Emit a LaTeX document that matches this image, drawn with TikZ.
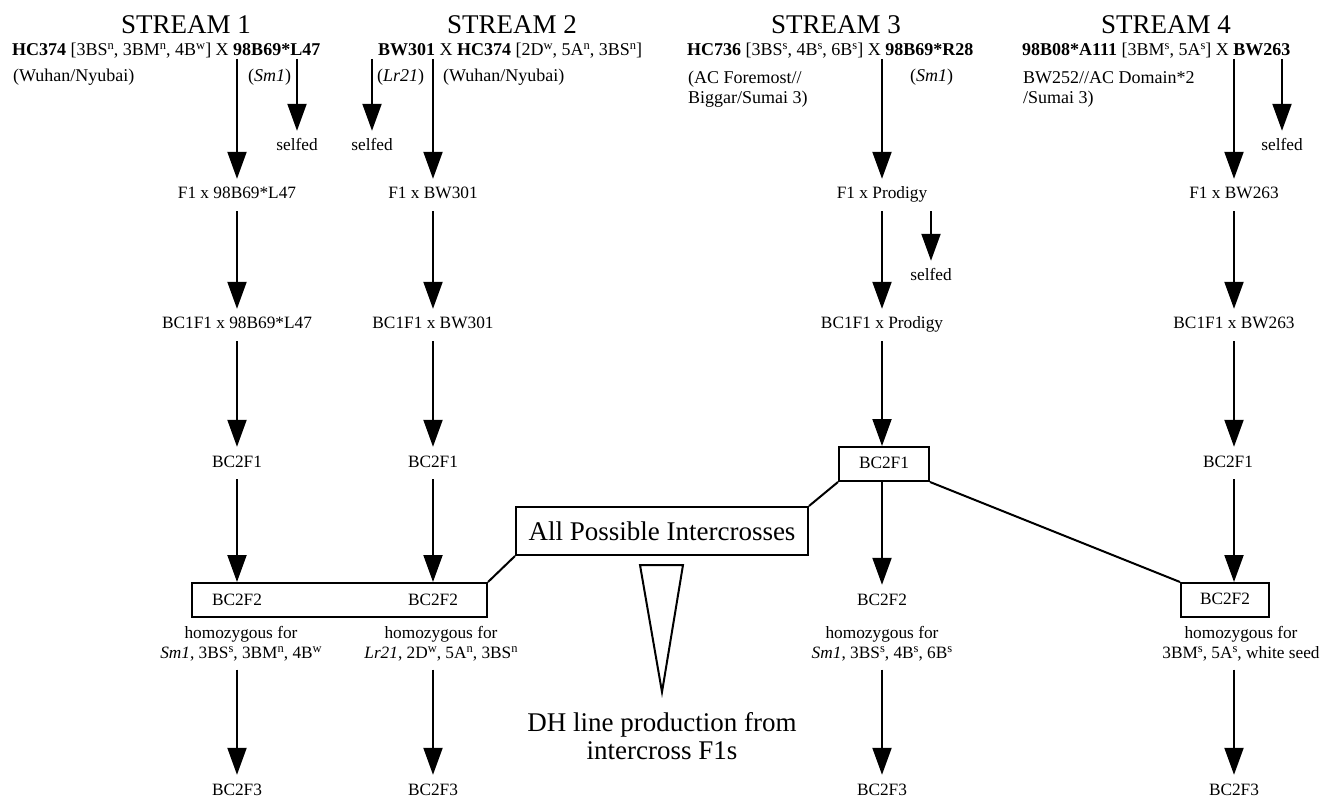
\documentclass[tikz,border=0pt]{standalone}
\usepackage{fontspec}
\setmainfont{Liberation Serif}
\usetikzlibrary{arrows.meta}
\newcommand{\hsup}[1]{\smash{\raisebox{6.5pt}{\fontsize{12.5}{12.5}\selectfont #1}}}
\newcommand{\lsup}[1]{\smash{\raisebox{6pt}{\fontsize{12.5}{12.5}\selectfont #1}}}
\tikzset{
  arr/.style={line width=2pt, -{Triangle[width=19pt,length=27pt]}},
  conn/.style={line width=2pt},
  txt/.style={font=\fontsize{17.3}{20}\selectfont, inner sep=8pt, text height=12pt, text depth=4pt},
  homo/.style={font=\fontsize{17.3}{20}\selectfont, inner sep=8pt, align=center},
  head/.style={font=\fontsize{18}{20}\selectfont, inner sep=0pt, anchor=west},
  big/.style={font=\fontsize{27}{28}\selectfont, inner sep=0pt},
  box/.style={draw, line width=2pt},
}
\begin{document}
\begin{tikzpicture}[x=1pt,y=-1pt]
\useasboundingbox (0,0) rectangle (1335,799);

% stream titles
\node[big] (st1) at (186,25) {STREAM 1};
\node[big] (st2) at (512,25) {STREAM 2};
\node[big] (st3) at (836,25) {STREAM 3};
\node[big] (st4) at (1166,25) {STREAM 4};

% crosses
\node[head] (hx1) at (12,51) {\textbf{HC374} [3BS\hsup{n}, 3BM\hsup{n}, 4B\hsup{w}] X \textbf{98B69*L47}};
\node[head] (hx2) at (378,51) {\textbf{BW301} X \textbf{HC374} [2D\hsup{w}, 5A\hsup{n}, 3BS\hsup{n}]};
\node[head] (hx3) at (687,51) {\textbf{HC736} [3BS\hsup{s}, 4B\hsup{s}, 6B\hsup{s}] X \textbf{98B69*R28}};
\node[head] (hx4) at (1022,51) {\textbf{98B08*A111} [3BM\hsup{s}, 5A\hsup{s}] X \textbf{BW263}};

% parents
\node[head] (pa1) at (13,77) {(Wuhan/Nyubai)};
\node[head] (pb1) at (248,77) {(\textit{Sm1})};
\node[head] (pa2) at (377,77) {(\textit{Lr21})};
\node[head] (pb2) at (443,77) {(Wuhan/Nyubai)};
\node[head, align=left] (pa3) at (688,89) {(AC Foremost//\\Biggar/Sumai 3)};
\node[head] (pb3) at (910,77) {(\textit{Sm1})};
\node[head, align=left] (pa4) at (1023,89) {BW252//AC Domain*2\\/Sumai 3)};

% stream 1
\node[txt] (sf1) at (297,147) {selfed};
\node[txt] (fa1) at (237,195) {F1 x 98B69*L47};
\node[txt] (bb1) at (237,325) {BC1F1 x 98B69*L47};
\node[txt] (bc1) at (237,463) {BC2F1};
\node[homo] (hm1) at (241,644) {homozygous for\\\textit{Sm1}, 3BS\lsup{s}, 3BM\lsup{n}, 4B\lsup{w}};
\node[txt] (be1) at (237,791) {BC2F3};

% stream 2
\node[txt] (sf2) at (372,147) {selfed};
\node[txt] (fa2) at (433,195) {F1 x BW301};
\node[txt] (bb2) at (433,325) {BC1F1 x BW301};
\node[txt] (bc2) at (433,463) {BC2F1};
\node[homo] (hm2) at (441,644) {homozygous for\\\textit{Lr21}, 2D\lsup{w}, 5A\lsup{n}, 3BS\lsup{n}};
\node[txt] (be2) at (433,791) {BC2F3};

% shared BC2F2 box of streams 1 and 2
\node[box, minimum width=295pt, minimum height=34pt] (pair) at (339.5,600) {};
\node[txt] (bd1) at (237,601) {BC2F2};
\node[txt] (bd2) at (433,601) {BC2F2};

% stream 3
\node[txt] (fa3) at (882,195) {F1 x Prodigy};
\node[txt] (sf3) at (931,277) {selfed};
\node[txt] (bb3) at (882,325) {BC1F1 x Prodigy};
\node[txt, box, minimum width=90pt, minimum height=34pt] (bc3) at (884,464) {BC2F1};
\node[txt] (bd3) at (882,601) {BC2F2};
\node[homo] (hm3) at (882,644) {homozygous for\\\textit{Sm1}, 3BS\lsup{s}, 4B\lsup{s}, 6B\lsup{s}};
\node[txt] (be3) at (882,791) {BC2F3};

% stream 4
\node[txt] (sf4) at (1282,147) {selfed};
\node[txt] (fa4) at (1234,195) {F1 x BW263};
\node[txt] (bb4) at (1234,325) {BC1F1 x BW263};
\node[txt] (bc4) at (1228,463) {BC2F1};
\node[txt, box, minimum width=88pt, minimum height=34pt] (bd4) at (1225,600) {BC2F2};
\node[homo] (hm4) at (1241,644) {homozygous for\\3BM\lsup{s}, 5A\lsup{s}, white seed};
\node[txt] (be4) at (1234,791) {BC2F3};

% intercrosses
\node[box, big, minimum width=292pt, minimum height=48pt] (allx) at (662,531) {All Possible Intercrosses};
\node[big, align=center] (dh) at (662,736) {DH line production from\\intercross F1s};
\draw[conn] (640,565) -- (683,565) -- (662,692) -- cycle;

\draw[conn] (pair.north east) -- (allx.south west);
\draw[conn] (allx.north east) -- (bc3.south west);
\draw[conn] (bc3.south east) -- (bd4.north west);

% arrows
\draw[arr] (fa1 |- hx1.south) -- (fa1.north);
\draw[arr] (sf1 |- hx1.south) -- (sf1.north);
\draw[arr] (fa2 |- hx2.south) -- (fa2.north);
\draw[arr] (sf2 |- hx2.south) -- (sf2.north);
\draw[arr] (fa3 |- hx3.south) -- (fa3.north);
\draw[arr] (fa4 |- hx4.south) -- (fa4.north);
\draw[arr] (sf4 |- hx4.south) -- (sf4.north);

\draw[arr] (fa1) -- (bb1);
\draw[arr] (bb1) -- (bc1);
\draw[arr] (bc1) -- (bc1 |- pair.north);
\draw[arr] (be1 |- hm1.south) -- (be1);

\draw[arr] (fa2) -- (bb2);
\draw[arr] (bb2) -- (bc2);
\draw[arr] (bc2) -- (bc2 |- pair.north);
\draw[arr] (be2 |- hm2.south) -- (be2);

\draw[arr] (fa3) -- (bb3);
\draw[arr] (sf3 |- fa3.south) -- (sf3.north);
\draw[arr] (bb3) -- (bb3 |- bc3.north);
\draw[arr] (bb3 |- bc3.south) -- (bd3);
\draw[arr] (be3 |- hm3.south) -- (be3);

\draw[arr] (fa4) -- (bb4);
\draw[arr] (bb4) -- (bb4 |- bc4.north);
\draw[arr] (bb4 |- bc4.south) -- (bb4 |- bd4.north);
\draw[arr] (be4 |- hm4.south) -- (be4);
\end{tikzpicture}
\end{document}
